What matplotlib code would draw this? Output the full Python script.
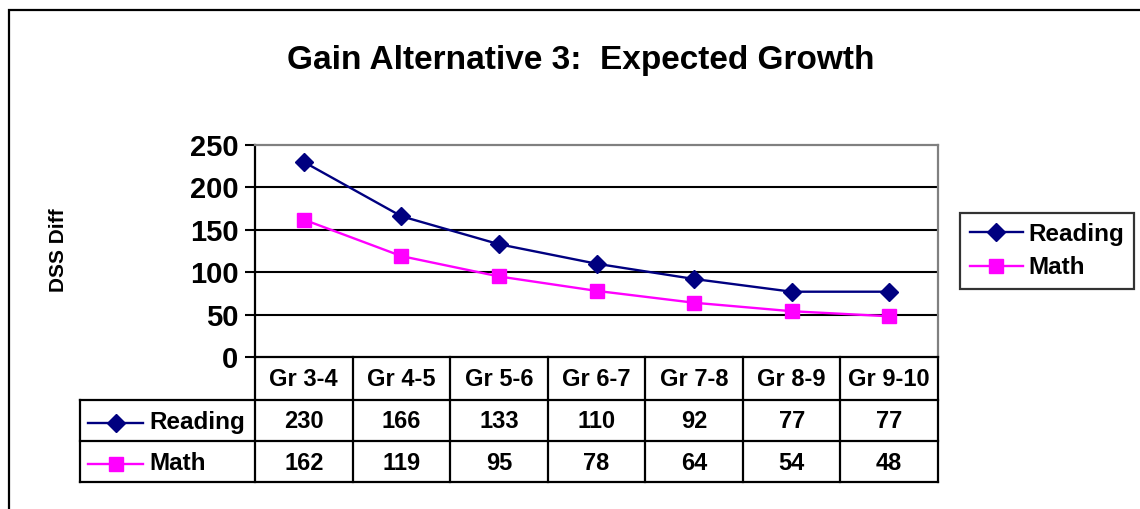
import matplotlib
matplotlib.use("Agg")
import matplotlib.pyplot as plt
import matplotlib.transforms as mtransforms
from matplotlib.lines import Line2D
from matplotlib.patches import Rectangle

plt.rcParams['font.family'] = ['Liberation Sans', 'DejaVu Sans']
plt.rcParams['font.weight'] = 'bold'

title = "Gain Alternative 3:  Expected Growth"
categories = ["Gr 3-4", "Gr 4-5", "Gr 5-6", "Gr 6-7", "Gr 7-8", "Gr 8-9", "Gr 9-10"]
reading = [230, 166, 133, 110, 92, 77, 77]
math = [162, 119, 95, 78, 64, 54, 48]
y_ticks = [0, 50, 100, 150, 200, 250]

W, H = 1140, 509
fig = plt.figure(figsize=(W / 100, H / 100), dpi=100)
fig.patch.set_facecolor('white')


def px(x0, y0, x1, y1):
    # pixel box (top-left origin) -> figure fraction rect
    return [x0 / W, 1 - y1 / H, (x1 - x0) / W, (y1 - y0) / H]


# outer chart border (clipped at right/bottom like the source)
fig.patches.append(Rectangle((9 / W, -0.1), 1.2, 1.1 - 10 / H, transform=fig.transFigure,
                             fill=False, ec='black', lw=1.6, zorder=0))

ax_l, ax_t, ax_r, ax_b = 255, 145, 938, 357
ax = fig.add_axes(px(ax_l, ax_t, ax_r, ax_b))
xs = list(range(len(categories)))

ax.set_xlim(-0.5, len(categories) - 0.5)
ax.set_ylim(0, 250)
ax.set_yticks(y_ticks)
ax.set_yticklabels([str(t) for t in y_ticks], fontsize=21, fontweight='bold')
ax.tick_params(axis='y', direction='out', length=7, width=1.5, pad=5)
ax.set_xticks([])
for t in y_ticks[1:-1]:
    ax.axhline(t, color='black', lw=1.5, zorder=1)
ax.spines['top'].set_color('#808080')
ax.spines['right'].set_color('#808080')
for s in ax.spines.values():
    s.set_linewidth(1.6)

r_line, = ax.plot(xs, reading, color='#000080', lw=1.7, marker='D', ms=9.5,
                  mfc='#000080', mec='#000080', label='Reading', zorder=3)
m_line, = ax.plot(xs, math, color='#FF00FF', lw=1.7, marker='s', ms=10,
                  mfc='#FF00FF', mec='#FF00FF', label='Math', zorder=3)

fig.text(581 / W, 1 - 61 / H, title, ha='center', va='center', fontsize=24, fontweight='bold')
fig.text(58 / W, 1 - 250 / H, "DSS Diff", rotation=90, ha='center', va='center',
         fontsize=15, fontweight='bold')

# data table under the plot
ah = ax_b - ax_t
aw = ax_r - ax_l


def fy(p):
    return (ax_b - p) / ah


def fx(p):
    return (p - ax_l) / aw


trans = mtransforms.blended_transform_factory(ax.transData, ax.transAxes)
y_head, y_r, y_m = fy(400), fy(441), fy(482)
kw = dict(color='black', lw=1.6, clip_on=False, transform=ax.transAxes, solid_capstyle='projecting')
for k in range(len(categories) + 1):
    ax.add_line(Line2D([k / len(categories)] * 2, [0, y_m], **kw))
ax.add_line(Line2D([fx(80), 1], [y_head, y_head], **kw))
ax.add_line(Line2D([fx(80), 1], [y_r, y_r], **kw))
ax.add_line(Line2D([fx(80), 1], [y_m, y_m], **kw))
ax.add_line(Line2D([fx(80), fx(80)], [y_head, y_m], **kw))

for x, c in zip(xs, categories):
    ax.text(x, fy(380), c, transform=trans, ha='center', va='center', fontsize=17, fontweight='bold')
for x, v in zip(xs, reading):
    ax.text(x, fy(422), str(v), transform=trans, ha='center', va='center', fontsize=17, fontweight='bold')
for x, v in zip(xs, math):
    ax.text(x, fy(463), str(v), transform=trans, ha='center', va='center', fontsize=17, fontweight='bold')

for line, yy, name in [(r_line, fy(423), 'Reading'), (m_line, fy(464), 'Math')]:
    ax.add_line(Line2D([fx(88), fx(143)], [yy, yy], color=line.get_color(), lw=1.7,
                       clip_on=False, transform=ax.transAxes))
    ax.add_line(Line2D([fx(115.5)], [yy], marker=line.get_marker(), ms=line.get_markersize(),
                       color=line.get_color(), clip_on=False, transform=ax.transAxes))
    ax.text(fx(149), yy, name, transform=ax.transAxes, ha='left', va='center',
            fontsize=17.5, fontweight='bold')

leg = fig.legend(handles=[r_line, m_line], loc='center left',
                 bbox_to_anchor=(960 / W, 1 - 251 / H), fontsize=17.5, frameon=True,
                 fancybox=False, handlelength=2.2, borderpad=0.4, labelspacing=0.45,
                 handletextpad=0.2, borderaxespad=0)
leg.get_frame().set_edgecolor('black')
leg.get_frame().set_linewidth(1.6)
for t in leg.get_texts():
    t.set_fontweight('bold')

fig.savefig("out.png", dpi=100)
